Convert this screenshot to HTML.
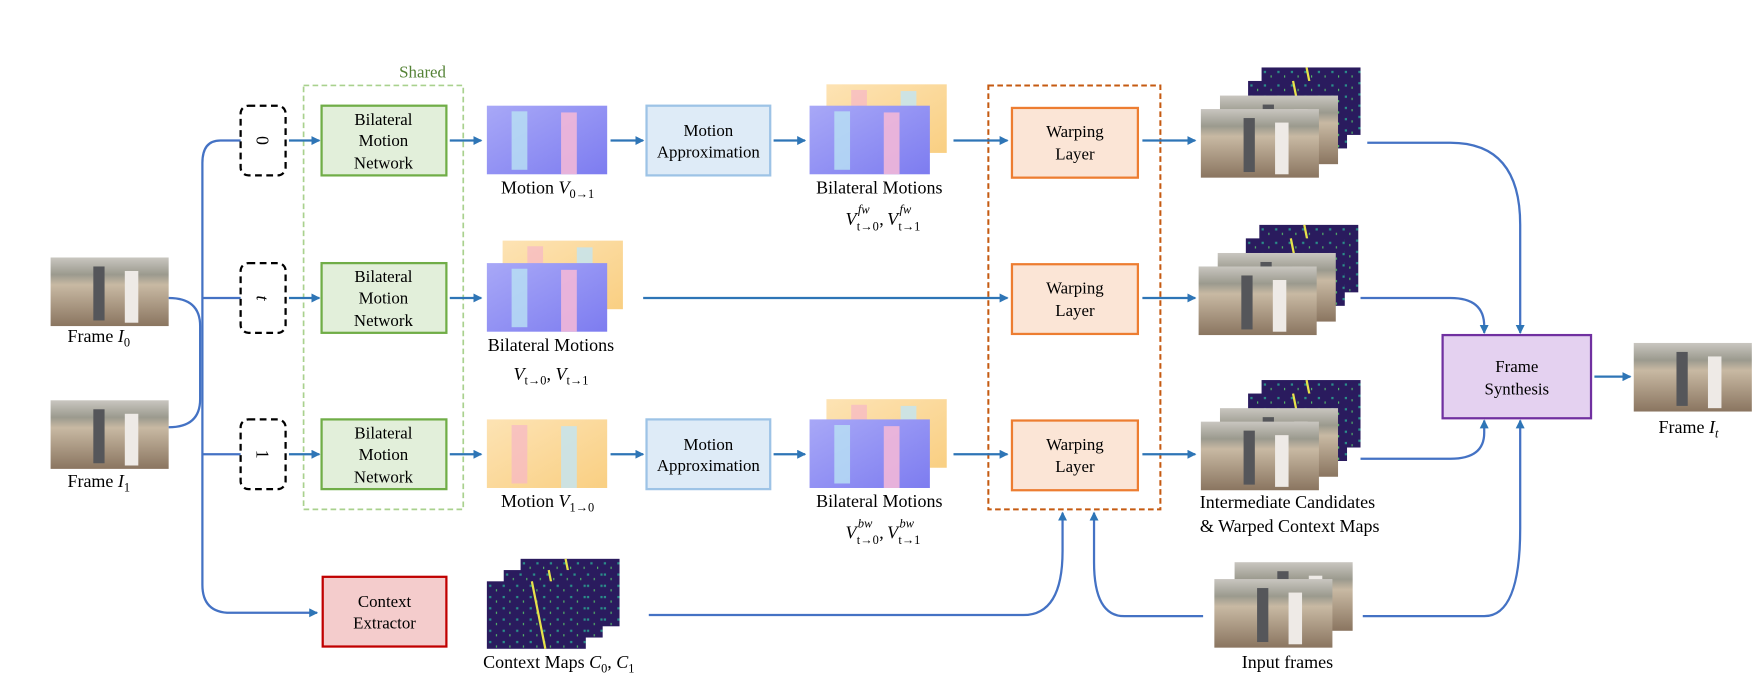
<!DOCTYPE html>
<html><head><meta charset="utf-8"><style>
html,body{margin:0;padding:0;background:#fff}
svg{display:block}
text{font-family:"Liberation Serif",serif;fill:#000}
</style></head><body>
<svg width="1763" height="683" viewBox="0 0 1763 683" xmlns="http://www.w3.org/2000/svg">
<defs>
<marker id="a" markerWidth="8" markerHeight="8" refX="7" refY="4" orient="auto" markerUnits="userSpaceOnUse"><path d="M0,0 L8,4 L0,8 z" fill="#2e75b6"/></marker>
<linearGradient id="beach" x1="0" y1="0" x2="0" y2="1">
<stop offset="0" stop-color="#c9c6c0"/><stop offset="0.25" stop-color="#9b9a8e"/><stop offset="0.4" stop-color="#c8b9a3"/><stop offset="1" stop-color="#8a7560"/></linearGradient>
<linearGradient id="blue" x1="0" y1="0" x2="1" y2="1"><stop offset="0" stop-color="#a8a8f7"/><stop offset="1" stop-color="#7d7cf0"/></linearGradient>
<linearGradient id="yel" x1="0" y1="0" x2="1" y2="1"><stop offset="0" stop-color="#fde3b4"/><stop offset="1" stop-color="#f9cf82"/></linearGradient>
<pattern id="ctx" width="12" height="10" patternUnits="userSpaceOnUse"><rect width="12" height="10" fill="#2a1b5e"/><rect x="2" y="3" width="2" height="2" fill="#2a8f8a"/><rect x="8" y="7" width="1" height="2" fill="#55c06a"/></pattern>
<g id="photo"><rect width="105" height="61" fill="url(#beach)"/><rect x="38" y="8" width="10" height="48" fill="#55565a"/><rect x="66" y="12" width="12" height="46" fill="#eeeae6"/></g>
<g id="bflow"><rect width="107" height="61" fill="url(#blue)"/><rect x="22" y="5" width="14" height="52" fill="#b9e2f4" opacity="0.8"/><rect x="66" y="6" width="14" height="55" fill="#f2b7d8" opacity="0.9"/></g>
<g id="yflow"><rect width="107" height="61" fill="url(#yel)"/><rect x="22" y="5" width="14" height="52" fill="#f6b6c8" opacity="0.7"/><rect x="66" y="6" width="14" height="55" fill="#c8e3ea" opacity="0.9"/></g>
<g id="ctxm"><rect width="88" height="60" fill="url(#ctx)"/><path d="M40,0 L46,30 L52,60" stroke="#e7e34a" stroke-width="2" fill="none"/></g>
<g id="cand"><use href="#ctxm" x="54" y="0"/><use href="#ctxm" x="42" y="12"/><use href="#photo" x="17" y="25"/><use href="#photo" x="0" y="37"/></g>
</defs>
<g transform="scale(1.1244)" font-size="16">
<text x="355" y="69" font-size="15" style="fill:#548235">Shared</text>
<rect x="270" y="76" width="142" height="377" fill="none" stroke="#a9d18e" stroke-width="1.5" stroke-dasharray="5,3"/>
<rect x="879" y="76" width="153" height="377" fill="none" stroke="#c55a11" stroke-width="1.8" stroke-dasharray="5,3"/>

<use href="#photo" x="45" y="229"/>
<text x="60" y="304">Frame <tspan font-style="italic">I</tspan><tspan font-size="11" dy="4">0</tspan></text>
<use href="#photo" x="45" y="356"/>
<text x="60" y="433">Frame <tspan font-style="italic">I</tspan><tspan font-size="11" dy="4">1</tspan></text>

<g stroke="#4472c4" stroke-width="2" fill="none">
<path d="M150,265 Q178,265 178,290 L178,355 Q178,380 150,380"/>
<path d="M214,125 L196,125 Q180,125 180,145 L180,520 Q180,545 205,545 L282,545" marker-end="url(#a)"/>
<path d="M180,265 L214,265"/>
<path d="M180,404 L214,404"/>
</g>

<g fill="none" stroke="#000" stroke-width="2" stroke-dasharray="6,4">
<rect x="214" y="94" width="40" height="62" rx="7"/>
<rect x="214" y="234" width="40" height="62" rx="7"/>
<rect x="214" y="373" width="40" height="62" rx="7"/>
</g>
<text transform="translate(228,125) rotate(90)" text-anchor="middle">0</text>
<text transform="translate(228,265) rotate(90)" text-anchor="middle" font-style="italic">t</text>
<text transform="translate(228,404) rotate(90)" text-anchor="middle">1</text>

<g fill="#e2efda" stroke="#70ad47" stroke-width="2">
<rect x="286" y="94" width="111" height="62"/><rect x="286" y="234" width="111" height="62"/><rect x="286" y="373" width="111" height="62"/>
</g>
<g text-anchor="middle" font-size="15">
<text x="341" y="111">Bilateral</text><text x="341" y="130">Motion</text><text x="341" y="150">Network</text>
<text x="341" y="251">Bilateral</text><text x="341" y="270">Motion</text><text x="341" y="290">Network</text>
<text x="341" y="390">Bilateral</text><text x="341" y="409">Motion</text><text x="341" y="429">Network</text>
</g>

<use href="#bflow" x="433" y="94"/>
<text x="487" y="172" text-anchor="middle">Motion <tspan font-style="italic">V</tspan><tspan font-size="11" dy="4">0→1</tspan></text>
<use href="#yflow" x="447" y="214"/><use href="#bflow" x="433" y="234"/>
<text x="490" y="312" text-anchor="middle">Bilateral Motions</text>
<text x="490" y="338" text-anchor="middle"><tspan font-style="italic">V</tspan><tspan font-size="11" dy="4">t→0</tspan><tspan dy="-4">, </tspan><tspan font-style="italic">V</tspan><tspan font-size="11" dy="4">t→1</tspan></text>
<use href="#yflow" x="433" y="373"/>
<text x="487" y="451" text-anchor="middle">Motion <tspan font-style="italic">V</tspan><tspan font-size="11" dy="4">1→0</tspan></text>

<g fill="#deebf7" stroke="#9dc3e6" stroke-width="2">
<rect x="575" y="94" width="110" height="62"/><rect x="575" y="373" width="110" height="62"/>
</g>
<g text-anchor="middle" font-size="15">
<text x="630" y="121">Motion</text><text x="630" y="140">Approximation</text>
<text x="630" y="400">Motion</text><text x="630" y="419">Approximation</text>
</g>

<use href="#yflow" x="735" y="75"/><use href="#bflow" x="720" y="94"/>
<text x="782" y="172" text-anchor="middle">Bilateral Motions</text>
<text x="752" y="200" font-style="italic">V</text><text x="762" y="205" font-size="11">t→0</text><text x="763" y="190" font-size="11" font-style="italic">fw</text><text x="782" y="200">,</text>
<text x="789" y="200" font-style="italic">V</text><text x="799" y="205" font-size="11">t→1</text><text x="800" y="190" font-size="11" font-style="italic">fw</text>
<use href="#yflow" x="735" y="355"/><use href="#bflow" x="720" y="373"/>
<text x="782" y="451" text-anchor="middle">Bilateral Motions</text>
<text x="752" y="479" font-style="italic">V</text><text x="762" y="484" font-size="11">t→0</text><text x="763" y="469" font-size="11" font-style="italic">bw</text><text x="782" y="479">,</text>
<text x="789" y="479" font-style="italic">V</text><text x="799" y="484" font-size="11">t→1</text><text x="800" y="469" font-size="11" font-style="italic">bw</text>

<g fill="#fbe5d6" stroke="#ed7d31" stroke-width="2">
<rect x="900" y="96" width="112" height="62"/><rect x="900" y="235" width="112" height="62"/><rect x="900" y="374" width="112" height="62"/>
</g>
<g text-anchor="middle" font-size="15">
<text x="956" y="122">Warping</text><text x="956" y="142">Layer</text>
<text x="956" y="261">Warping</text><text x="956" y="281">Layer</text>
<text x="956" y="400">Warping</text><text x="956" y="420">Layer</text>
</g>

<use href="#cand" x="1068" y="60"/>
<use href="#cand" x="1066" y="200"/>
<use href="#cand" x="1068" y="338"/>
<text x="1145" y="452" text-anchor="middle">Intermediate Candidates</text>
<text x="1147" y="473" text-anchor="middle">&amp; Warped Context Maps</text>

<rect x="1283" y="298" width="132" height="74" fill="#e4d1f0" stroke="#7030a0" stroke-width="2"/>
<text x="1349" y="331" text-anchor="middle" font-size="15">Frame</text><text x="1349" y="351" text-anchor="middle" font-size="15">Synthesis</text>
<use href="#photo" x="1453" y="305"/>
<text x="1475" y="385">Frame <tspan font-style="italic">I</tspan><tspan font-size="11" dy="4" font-style="italic">t</tspan></text>

<rect x="287" y="513" width="110" height="62" fill="#f4cccc" stroke="#c00000" stroke-width="2"/>
<text x="342" y="540" text-anchor="middle" font-size="15">Context</text><text x="342" y="559" text-anchor="middle" font-size="15">Extractor</text>
<use href="#ctxm" x="463" y="497"/><use href="#ctxm" x="448" y="507"/><use href="#ctxm" x="433" y="517"/>
<text x="497" y="594" text-anchor="middle">Context Maps <tspan font-style="italic">C</tspan><tspan font-size="11" dy="4">0</tspan><tspan dy="-4">, </tspan><tspan font-style="italic">C</tspan><tspan font-size="11" dy="4">1</tspan></text>

<use href="#photo" x="1098" y="500"/><use href="#photo" x="1080" y="515"/>
<text x="1145" y="594" text-anchor="middle">Input frames</text>

<g stroke="#2e75b6" stroke-width="2" fill="none" marker-end="url(#a)">
<path d="M257,125 L284,125"/><path d="M257,265 L284,265"/><path d="M257,404 L284,404"/>
<path d="M400,125 L428,125"/><path d="M400,265 L428,265"/><path d="M400,404 L428,404"/>
<path d="M543,125 L572,125"/><path d="M543,404 L572,404"/>
<path d="M688,125 L716,125"/><path d="M688,404 L716,404"/>
<path d="M848,125 L896,125"/><path d="M572,265 L896,265"/><path d="M848,404 L896,404"/>
<path d="M1016,125 L1063,125"/><path d="M1016,265 L1063,265"/><path d="M1016,404 L1063,404"/>
<path d="M1418,335 L1450,335"/>
</g>
<g stroke="#4472c4" stroke-width="2" fill="none" marker-end="url(#a)">
<path d="M1216,127 L1290,127 Q1352,127 1352,200 L1352,296"/>
<path d="M1210,265 L1290,265 Q1320,265 1320,290 L1320,296"/>
<path d="M1210,408 L1290,408 Q1320,408 1320,385 L1320,374"/>
<path d="M1212,548 L1320,548 Q1352,548 1352,470 L1352,374"/>
<path d="M577,547 L910,547 Q945,547 945,490 L945,456"/>
<path d="M1070,548 L1000,548 Q973,548 973,500 L973,456"/>
</g>
</g>
</svg>
</body></html>
